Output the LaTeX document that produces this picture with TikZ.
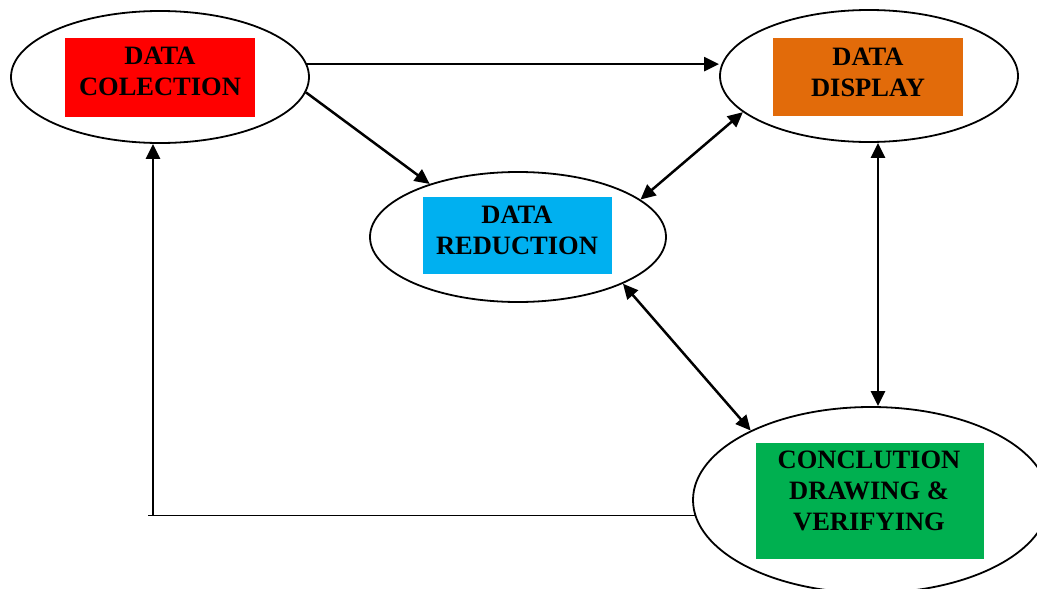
\documentclass[tikz,border=0pt]{standalone}
\usepackage{fontspec}
\setmainfont{Liberation Serif}
\usetikzlibrary{shapes.geometric,arrows.meta}
\definecolor{cred}{RGB}{255,0,0}
\definecolor{corange}{RGB}{226,107,10}
\definecolor{cblue}{RGB}{0,176,240}
\definecolor{cgreen}{RGB}{0,176,80}
\tikzset{
  oval/.style={ellipse, draw=black, line width=1.8pt, inner sep=0pt},
  cbox/.style={rectangle, draw=none, inner sep=0pt},
  lbl/.style={align=center, font=\fontsize{26.5}{31}\selectfont\bfseries, inner sep=0pt},
  arr/.style={line width=2.5pt, -{Triangle[length=15pt,width=14pt]}},
  darr/.style={line width=2.5pt, {Triangle[length=15pt,width=14pt]}-{Triangle[length=15pt,width=14pt]}},
}
\begin{document}
\begin{tikzpicture}[x=1pt,y=-1pt]
\useasboundingbox (0,0) rectangle (1037,589);
\clip (0,0) rectangle (1037,589);
% ellipses
\node[oval, minimum width=298pt, minimum height=132pt] (col) at (160,77) {};
\node[oval, minimum width=298pt, minimum height=132pt] (disp) at (869,76) {};
\node[oval, minimum width=296pt, minimum height=130pt] (red) at (518,237) {};
\node[oval, minimum width=356pt, minimum height=186pt] (conc) at (871,500) {};
% coloured boxes
\node[cbox, fill=cred, minimum width=190pt, minimum height=79pt] (colbox) at (160,77.5) {};
\node[cbox, fill=corange, minimum width=190pt, minimum height=78pt] (dispbox) at (868,77) {};
\node[cbox, fill=cblue, minimum width=189pt, minimum height=77pt] (redbox) at (517.5,235.5) {};
\node[cbox, fill=cgreen, minimum width=228pt, minimum height=116pt] (concbox) at (870,501) {};
% texts
\node[lbl] (coltxt) at (160,71) {DATA\\COLECTION};
\node[lbl] (disptxt) at (868,72) {DATA\\DISPLAY};
\node[lbl] (redtxt) at (517,230.5) {DATA\\REDUCTION};
\node[lbl] (conctxt) at (869,491) {CONCLUTION\\DRAWING \&\\VERIFYING};
% helper coordinates
\coordinate (fbend) at (148,514);
\coordinate (corner) at (153,514);
% connectors
\draw[arr] (col.5) -- (col.5 -| disp.west);
\draw[arr] (col.-6) -- (red.149);
\draw[darr] (disp.196) -- (red.17);
\draw[darr] ([xshift=9pt]disp.south) -- ([xshift=9pt]disp.south |- conc.north);
\draw[darr] (red.-24) -- (conc.150);
\draw[line width=1.8pt] (conc.185.3) -- (conc.185.3 -| fbend);
\draw[arr] (conc.185.3 -| corner) -- (col.south -| corner);
\end{tikzpicture}
\end{document}
